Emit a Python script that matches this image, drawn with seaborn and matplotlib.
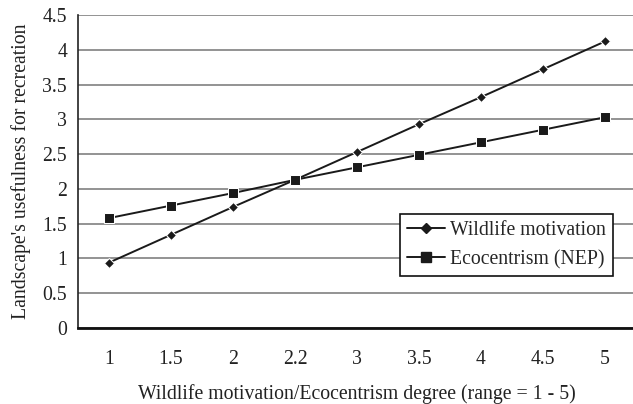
import matplotlib
matplotlib.use("Agg")
import matplotlib.pyplot as plt
import seaborn as sns
import pandas as pd
from matplotlib.ticker import FixedLocator, MultipleLocator
from matplotlib.lines import Line2D

categories = ["1", "1.5", "2", "2.2", "3", "3.5", "4", "4.5", "5"]
wildlife = [0.94, 1.34, 1.74, 2.13, 2.53, 2.93, 3.32, 3.72, 4.12]
ecocentrism = [1.58, 1.76, 1.94, 2.13, 2.31, 2.49, 2.67, 2.85, 3.03]
series_names = ["Wildlife motivation", "Ecocentrism (NEP)"]

sns.set_theme(style="white")
plt.rcParams["font.family"] = ["Liberation Serif", "DejaVu Serif"]
FS = 14.2

rows = []
for i, c in enumerate(categories):
    rows.append({"pos": i, "value": wildlife[i], "series": series_names[0]})
    rows.append({"pos": i, "value": ecocentrism[i], "series": series_names[1]})
df = pd.DataFrame(rows)

fig = plt.figure(figsize=(6.33, 4.04), dpi=100)
ax = fig.add_axes([78 / 633, 1 - 328 / 404, (636 - 78) / 633, (328 - 15) / 404])

sns.lineplot(data=df, x="pos", y="value", hue="series", style="series",
             palette=["#1a1a1a", "#1a1a1a"], markers=["D", "s"], dashes=False,
             markersize=5, linewidth=1.4, ax=ax, legend=False)
for line, ms in zip(ax.lines, [5.2, 7]):
    line.set_markersize(ms)

ax.set_xlim(-0.5, 8.5)
ax.set_ylim(0, 4.5)
ax.yaxis.set_major_locator(MultipleLocator(0.5))
ax.set_yticklabels([("%g" % v) for v in ax.get_yticks()])
ax.grid(axis="y", color="#808080", linewidth=1.2)
ax.set_axisbelow(True)

ax.set_xticks(range(len(categories)))
ax.set_xticklabels(categories)
ax.tick_params(axis="x", which="major", length=0, pad=16, labelsize=FS, colors="#222222")
ax.xaxis.set_minor_locator(FixedLocator([k - 0.5 for k in range(len(categories) + 1)]))
ax.tick_params(axis="x", which="minor", length=6, width=1, color="#222222", direction="out")
ax.tick_params(axis="y", which="major", length=5, width=1, color="#222222", labelsize=FS, labelcolor="#222222", pad=3)

for s in ["top", "right"]:
    ax.spines[s].set_visible(False)
ax.spines["left"].set_color("#222222")
ax.spines["left"].set_linewidth(1.2)
ax.spines["bottom"].set_color("#111111")
ax.spines["bottom"].set_linewidth(2)

ax.set_xlabel("Wildlife motivation/Ecocentrism degree (range = 1 - 5)", fontsize=FS, labelpad=11, color="#222222")
ax.set_ylabel("Landscape's usefulness for recreation", fontsize=FS, labelpad=8, color="#222222")

handles = [Line2D([], [], color="#1a1a1a", marker="D", markersize=5, linewidth=1.4),
           Line2D([], [], color="#1a1a1a", marker="s", markersize=6.5, linewidth=1.4)]
leg = ax.legend(handles, series_names, loc="upper left",
                bbox_to_anchor=((400 - 78) / 558, 1 - (214 - 15) / 313),
                frameon=True, fancybox=False, framealpha=1, edgecolor="#111111",
                fontsize=FS, handlelength=1.95, handletextpad=0.25, borderpad=0.35,
                labelspacing=0.5, borderaxespad=0)
leg.get_frame().set_linewidth(1.2)

fig.savefig("out.png", dpi=100)
